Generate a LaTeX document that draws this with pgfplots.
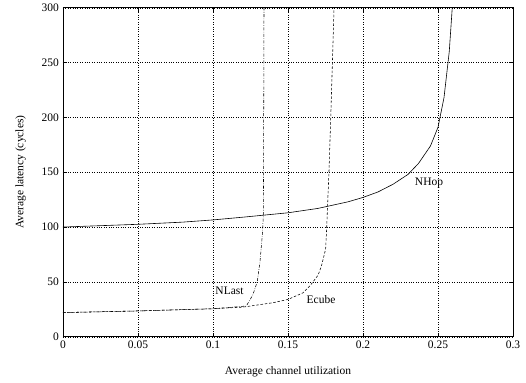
\documentclass[border=0pt]{standalone}
\usepackage{pgfplots}
\pgfplotsset{compat=1.18}
\usepackage{fontspec}
\setmainfont{Liberation Serif}
\begin{document}
\fontsize{11.5}{13}\selectfont
\begin{tikzpicture}
\begin{axis}[
  at={(0pt,0pt)}, anchor=south west,
  scale only axis, width=450pt, height=329pt,
  xmin=0, xmax=0.3, ymin=0, ymax=300,
  xtick={0,0.05,...,0.3}, ytick={0,50,...,300},
  xticklabels={0,0.05,0.1,0.15,0.2,0.25,0.3},
  /pgf/number format/assume math mode=true,
  tick align=inside, tick style={black, line width=0.5pt},
  major tick length=4pt,
  grid=major, grid style={black, line width=0.4pt, dash pattern=on 0.6pt off 1.8pt},
  axis line style={black, line width=0.6pt},
  xlabel={Average channel utilization},
  ylabel={Average latency (cycles)},
  xlabel style={yshift=-10pt},
  ylabel style={yshift=8pt},
  tick label style={font=\fontsize{11.5}{13}\selectfont},
  label style={font=\fontsize{11.5}{13}\selectfont},
  clip=true,
]
\addplot[black, line width=0.6pt, solid] coordinates {
(0,100) (0.02,101) (0.05,102.5) (0.08,104.5) (0.1,106.5) (0.12,109) (0.15,113)
(0.17,117) (0.19,123) (0.2,127) (0.21,132) (0.22,139) (0.23,148) (0.237,158)
(0.245,174) (0.25,191) (0.254,218) (0.2575,260) (0.2595,300) (0.2605,330)};
\addplot[black, line width=0.55pt, dash pattern=on 2.5pt off 1.8pt] coordinates {
(0,22) (0.05,23.5) (0.1,25.5) (0.12,27) (0.14,31) (0.15,34) (0.16,40) (0.165,47)
(0.17,56) (0.1722,64) (0.1751,80) (0.1758,100) (0.1773,150) (0.1785,200)
(0.1796,250) (0.1807,300)};
\addplot[black, line width=0.55pt, dash pattern=on 3pt off 1.5pt on 0.6pt off 1.5pt] coordinates {
(0,22) (0.05,23.5) (0.1,25.5) (0.1222,28) (0.1265,38) (0.1295,50) (0.1313,68)
(0.1329,93) (0.1336,111) (0.1338,200) (0.134,300)};
\node[anchor=center] at (axis cs:0.111,42) {NLast};
\node[anchor=center] at (axis cs:0.172,34) {Ecube};
\node[anchor=center] at (axis cs:0.244,140) {NHop};
\end{axis}
\path (-63pt,-46pt) rectangle (463pt,335pt);
\end{tikzpicture}
\end{document}
